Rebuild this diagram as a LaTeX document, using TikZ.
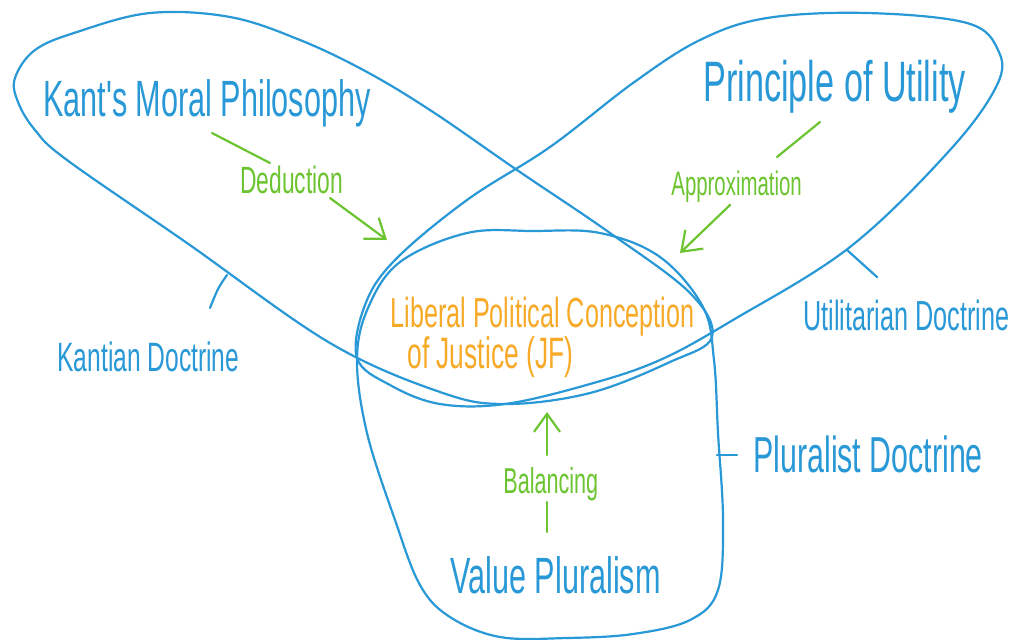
\documentclass[tikz,border=0pt]{standalone}
\usepackage{fontspec}
\newfontfamily\hand{Liberation Sans}[FakeStretch=0.6]
\usetikzlibrary{arrows.meta}
\definecolor{penblue}{RGB}{40,152,214}
\definecolor{pengreen}{RGB}{108,196,48}
\definecolor{penorange}{RGB}{247,170,40}
\tikzset{
  loopline/.style={draw=penblue, line width=1.1pt, line join=round},
  leader/.style={draw=penblue, line width=1.1pt, line cap=round},
  gline/.style={draw=pengreen, line width=1.1pt, line cap=round},
  garrow/.style={gline, -{Straight Barb[length=9pt,width=13pt,line width=1.1pt]}},
  bluetext/.style={text=penblue, inner sep=0pt, anchor=base west},
  greentext/.style={text=pengreen, inner sep=0pt, anchor=base west},
  orangetext/.style={text=penorange, inner sep=0pt, anchor=base west},
}
\newcommand{\hsz}[1]{\hand\fontsize{#1}{#1}\selectfont}
\begin{document}
\begin{tikzpicture}[x=0.5pt,y=-0.5pt]
\useasboundingbox (0,0) rectangle (1013,639);
\fill[white] (0,0) rectangle (1013,639);

% Kantian doctrine loop
\draw[loopline] plot[smooth cycle, tension=0.6] coordinates {
 (712,337) (690,293) (610,233) (517,170) (433,112) (367,72) (300,40)
 (230,17) (150,13) (77,32) (35,50) (15,78) (18,102) (35,130) (67,160)
 (187,243) (330,343) (440,392) (505,404) (590,393) (670,362)};

% Utilitarian doctrine loop
\draw[loopline] plot[smooth cycle, tension=0.6] coordinates {
 (357,358) (365,305) (395,260) (467,200) (550,147) (633,83) (700,40)
 (767,18) (867,13) (967,23) (998,50) (997,85) (950,150) (850,247)
 (733,320) (660,360) (590,384) (505,404) (440,404) (390,385)};

% Pluralist doctrine bucket
\draw[loopline] plot[smooth cycle, tension=0.6] coordinates {
 (357,360) (368,308) (400,262) (467,233) (533,231) (600,233) (660,257)
 (703,307) (714,360) (718,433) (723,520) (718,590) (690,620) (633,634)
 (567,638) (500,637) (450,617) (420,585) (395,520) (367,433)};

% labels
\node[bluetext, font=\hsz{25.5}] (kant) at (43,116) {Kant's Moral Philosophy};
\node[bluetext, font=\hsz{28.5}] (util) at (703,101) {Principle of Utility};
\node[greentext, font=\hsz{19}] (ded) at (240,193) {Deduction};
\node[greentext, font=\hsz{17}] (approx) at (671,195) {Approximation};
\node[orangetext, font=\hsz{21}] (lpc1) at (390,327) {Liberal Political Conception};
\node[orangetext, font=\hsz{22}] (lpc2) at (407,368) {of Justice (JF)};
\node[greentext, font=\hsz{18}] (bal) at (503,493) {Balancing};
\node[bluetext, font=\hsz{25.5}] (vp) at (450,593) {Value Pluralism};
\node[bluetext, font=\hsz{20.5}] (kd) at (57,371) {Kantian Doctrine};
\node[bluetext, font=\hsz{21}] (ud) at (803,330) {Utilitarian Doctrine};
\node[bluetext, font=\hsz{25.3}] (pd) at (753,472) {Pluralist Doctrine};

% arrow end points
\coordinate (d0) at (212,133); \coordinate (d1) at (270,163);
\coordinate (d2) at (330,198); \coordinate (d3) at (387,240);
\coordinate (a0) at (820,122); \coordinate (a1) at (777,157);
\coordinate (a2) at (730,205); \coordinate (a3) at (680,253);
\coordinate (b0) at (547,455); \coordinate (b1) at (547,412);
\coordinate (b2) at (547,502); \coordinate (b3) at (547,532);
\draw[gline] (d0) -- (d1);
\draw[garrow] (d2) -- (d3);
\draw[gline] (a0) -- (a1);
\draw[garrow] (a2) -- (a3);
\draw[garrow] (b0) -- (b1);
\draw[gline] (b2) -- (b3);

% leaders
\coordinate (k0) at (227,275); \coordinate (k1) at (210,308);
\coordinate (u0) at (847,250); \coordinate (u1) at (877,277);
\coordinate (p0) at (717,455); \coordinate (p1) at (737,455);
\draw[leader] (k0) .. controls (218,288) .. (k1);
\draw[leader] (u0) -- (u1);
\draw[leader] (p0) -- (p1);
\end{tikzpicture}
\end{document}
